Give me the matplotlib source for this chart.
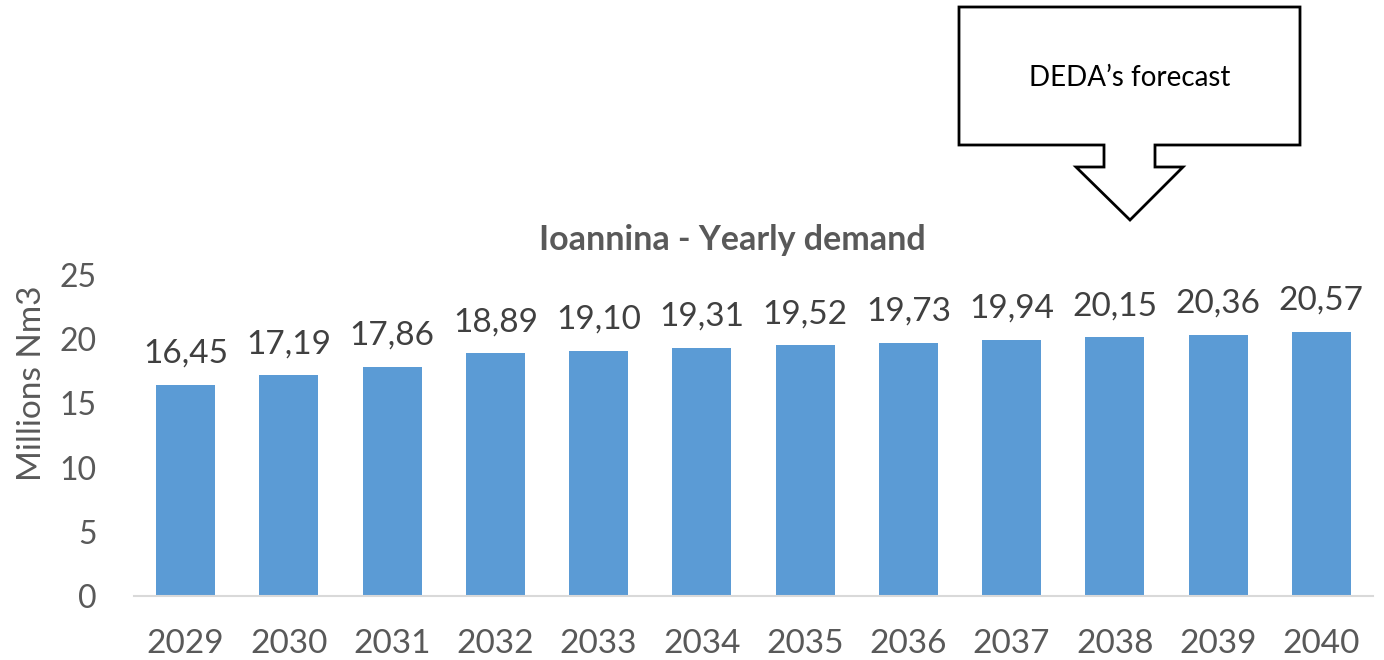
import matplotlib
matplotlib.use("Agg")
import matplotlib.pyplot as plt
from matplotlib.patches import Polygon

years = ["2029", "2030", "2031", "2032", "2033", "2034", "2035", "2036", "2037", "2038", "2039", "2040"]
demand = [16.45, 17.19, 17.86, 18.89, 19.10, 19.31, 19.52, 19.73, 19.94, 20.15, 20.36, 20.57]
yticks = [0, 5, 10, 15, 20, 25]

W, H = 1384, 660
plt.rcParams['font.family'] = ['Lato', 'DejaVu Sans']
fig = plt.figure(figsize=(W / 100, H / 100), dpi=100)
ax = fig.add_axes([134 / W, 1 - 596 / H, (1373 - 134) / W, (596 - 275) / H])

txt = '#595959'
x = list(range(len(years)))
ax.bar(x, demand, width=0.57, color='#5B9BD5', zorder=2)
for xi, v in zip(x, demand):
    ax.annotate(f"{v:.2f}".replace('.', ','), (xi, v), xytext=(0, 16), textcoords='offset points',
                ha='center', va='baseline', fontsize=24, color='#404040')

ax.set_xlim(-0.5, len(years) - 0.5)
ax.set_ylim(0, 25)
ax.set_yticks(yticks)
ax.set_yticklabels([str(t) for t in yticks], fontsize=23, color=txt)
ax.set_xticks(x)
ax.set_xticklabels(years, fontsize=24, color=txt)
ax.tick_params(axis='both', length=0)
ax.tick_params(axis='x', pad=24)
ax.tick_params(axis='y', pad=27)
for s in ['top', 'right', 'left']:
    ax.spines[s].set_visible(False)
ax.spines['bottom'].set_color('#D9D9D9')
ax.spines['bottom'].set_linewidth(1.5)
fig.text(32 / W, 1 - 383 / H, 'Millions Nm3', rotation=90, ha='center', va='center',
         fontsize=24, color=txt)
fig.text(732 / W, 1 - 240 / H, 'Ioannina - Yearly demand', ha='center', va='center',
         fontsize=24.5, fontweight='bold', color=txt)

# callout box with down arrow (pixel coords)
pts = [(959, 7), (1300, 7), (1300, 145), (1155, 145), (1155, 167), (1183, 167),
       (1130, 220), (1076, 167), (1104, 167), (1104, 145), (959, 145)]
poly = Polygon([(px / W, 1 - py / H) for px, py in pts], closed=True, transform=fig.transFigure,
               facecolor='white', edgecolor='black', linewidth=2)
fig.patches.append(poly)
fig.text(1130 / W, 1 - 78 / H, 'DEDA\u2019s forecast', ha='center', va='center', fontsize=20, color='black')

fig.savefig('out.png', dpi=100)
